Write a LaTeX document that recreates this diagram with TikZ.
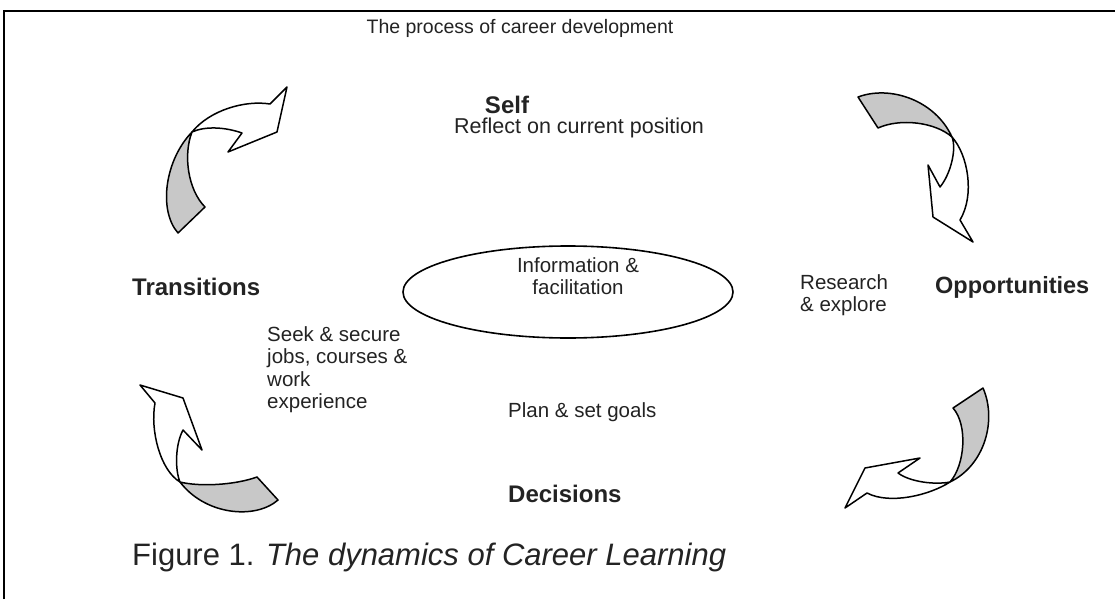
\documentclass[tikz,border=0pt]{standalone}
\usepackage{fontspec}
\setmainfont{Liberation Sans}
\definecolor{txt}{RGB}{35,35,35}
\definecolor{shade}{RGB}{200,200,200}
\begin{document}
\begin{tikzpicture}[x=1pt,y=-1pt,
  every node/.style={inner sep=0pt, text=txt},
  body/.style={font=\fontsize{20.5}{22.5}\selectfont, align=left},
  head/.style={font=\bfseries\fontsize{24}{28}\selectfont},
  ribbon/.style={draw=black, line width=1.5pt, line join=round},
  back/.style={ribbon, fill=shade},
  front/.style={ribbon, fill=white}]
\useasboundingbox (0,0) rectangle (1115,599);
% frame
\draw[line width=2pt] (4,599) -- (4,11) -- (1115,11);

% texts
\node[font=\fontsize{19.5}{24}\selectfont] (title) at (520,28) {The process of career development};
\node[head] (self) at (507,105) {Self};
\node[body, anchor=west, font=\fontsize{21.5}{24}\selectfont] (reflect) at (454,128) {Reflect on current position};
\node[head, anchor=west] (trans) at (132,287) {Transitions};
\node[head, anchor=west, font=\bfseries\fontsize{23.5}{28}\selectfont] (opp) at (935,287) {Opportunities};
\node[body, anchor=north west] (research) at (800,274) {Research\\\& explore};
\node[body, anchor=north west] (seek) at (267,326) {Seek \& secure\\jobs, courses \&\\work\\experience};
\node[body, anchor=west] (plan) at (508,412) {Plan \& set goals};
\node[head, anchor=west] (dec) at (508,494) {Decisions};
\node[anchor=west, font=\fontsize{31}{35}\selectfont] (cap) at (132,557) {Figure 1. \textit{The dynamics of Career Learning}};

% central ellipse
\draw[line width=1.6pt] (568,292) ellipse [x radius=165, y radius=46];
\node[body, align=center] (info) at (578,276) {Information \&\\facilitation};

% top-left arrow
\draw[back] (178,233) .. controls (158,210) and (165,160) .. (192,132)
  .. controls (183,155) and (188,190) .. (205,207) -- cycle;
\draw[front] (192,132) .. controls (210,110) and (245,100) .. (270,104)
  -- (287,87) -- (277,132) -- (228,152) -- (242,133)
  .. controls (225,127) and (205,126) .. (192,132) -- cycle;

% top-right arrow
\draw[back] (858,97) .. controls (890,85) and (935,100) .. (952,137)
  .. controls (935,122) and (900,118) .. (878,128) -- cycle;
\draw[front] (952,137) .. controls (968,155) and (975,195) .. (960,220)
  -- (973,242) -- (933,217) -- (928,165) -- (940,187)
  .. controls (950,175) and (957,150) .. (952,137) -- cycle;

% bottom-right arrow
\draw[back] (983,388) .. controls (997,420) and (985,465) .. (950,482)
  .. controls (965,465) and (968,425) .. (953,408) -- cycle;
\draw[front] (950,482) .. controls (930,495) and (890,505) .. (867,493)
  -- (845,508) -- (865,468) -- (920,458) -- (898,473)
  .. controls (910,482) and (935,485) .. (950,482) -- cycle;

% bottom-left arrow
\draw[back] (278,500) .. controls (255,520) and (205,515) .. (180,482)
  .. controls (200,487) and (235,485) .. (257,477) -- cycle;
\draw[front] (180,482) .. controls (160,470) and (150,430) .. (155,403)
  -- (140,385) -- (183,398) -- (202,450) -- (183,430)
  .. controls (175,445) and (175,470) .. (180,482) -- cycle;
\end{tikzpicture}
\end{document}
